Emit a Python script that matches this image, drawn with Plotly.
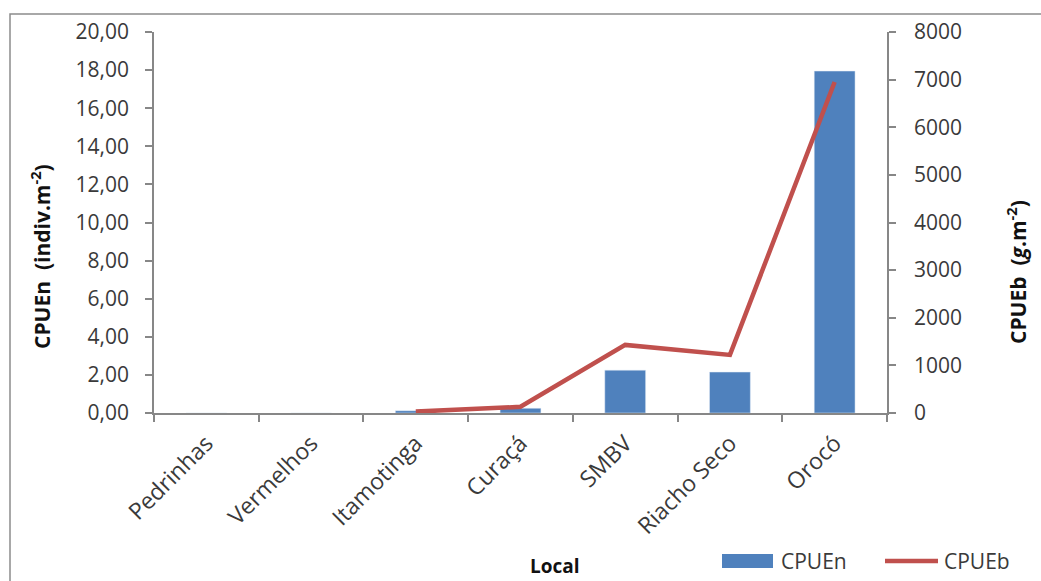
import plotly.graph_objects as go

locais = ["Pedrinhas", "Vermelhos", "Itamotinga", "Curaçá", "SMBV", "Riacho Seco", "Orocó"]
cpuen = [0.0, 0.0, 0.12, 0.25, 2.25, 2.15, 17.95]
cpueb = [None, None, 30, 130, 1430, 1220, 6950]

BAR = "#4F81BD"
LINE = "#C0504D"
AX = "#878787"
TXT = "#3a3a3a"
FONT = "Open Sans"

fig = go.Figure()
fig.add_trace(go.Bar(x=locais, y=cpuen, name="CPUEn", marker_color=BAR, yaxis="y"))
fig.add_trace(go.Scatter(x=locais, y=cpueb, name="CPUEb", mode="lines",
                         line=dict(color=LINE, width=4.5), yaxis="y2", connectgaps=False))

L, R, T, B = 154, 154, 32, 168
W, H = 1041, 581
pw = W - L - R
ph = H - T - B

def px(x):
    return (x - L) / pw

def py(y):
    return (H - B - y) / ph

fig.update_layout(
    width=W, height=H,
    margin=dict(l=L, r=R, t=T, b=B, pad=0),
    plot_bgcolor="white", paper_bgcolor="white",
    separators=",.",
    bargap=0.61,
    showlegend=False,
    font=dict(family=FONT, size=20, color=TXT),
    xaxis=dict(
        type="category", range=[-0.5, 6.5], tickson="boundaries",
        showline=True, linecolor=AX, linewidth=1.5,
        ticks="outside", ticklen=7, tickcolor=AX, tickwidth=1.5,
        tickangle=-45, tickfont=dict(size=23, family=FONT, color=TXT),
        ticklabelstandoff=6,
        showgrid=False, zeroline=False,
    ),
    yaxis=dict(
        range=[0, 20], dtick=2, tickformat=".2f",
        showline=True, linecolor=AX, linewidth=1.5,
        ticks="outside", ticklen=7, tickcolor=AX, tickwidth=1.5,
        tickfont=dict(size=21, family=FONT, color=TXT),
        ticklabelstandoff=12,
        showgrid=False, zeroline=False,
    ),
    yaxis2=dict(
        range=[0, 8000], dtick=1000, tickformat=".0f", overlaying="y", side="right",
        showline=True, linecolor=AX, linewidth=1.5,
        ticks="outside", ticklen=7, tickcolor=AX, tickwidth=1.5,
        tickfont=dict(size=21, family=FONT, color=TXT),
        ticklabelstandoff=14,
        showgrid=False, zeroline=False,
    ),
)

shapes = [
    dict(type="rect", xref="paper", yref="paper",
         x0=px(10), x1=px(1060), y0=py(600), y1=py(14),
         line=dict(color="#8c8c8c", width=1.5), fillcolor="rgba(0,0,0,0)", layer="below"),
    dict(type="rect", xref="paper", yref="paper",
         x0=px(722), x1=px(773), y0=py(568), y1=py(554),
         line=dict(width=0), fillcolor=BAR),
    dict(type="line", xref="paper", yref="paper",
         x0=px(885), x1=px(938), y0=py(561), y1=py(561),
         line=dict(color=LINE, width=4.5)),
]

annotations = [
    dict(text="<b>CPUEn  (indiv.m<sup>-2</sup>)</b>", xref="paper", yref="paper",
         x=px(40), y=py(257), textangle=-90, showarrow=False,
         font=dict(size=21, family=FONT, color="#111"), xanchor="center", yanchor="middle"),
    dict(text="<b>CPUEb  (<i>g</i>.m<sup>-2</sup>)</b>", xref="paper", yref="paper",
         x=px(1016), y=py(272), textangle=-90, showarrow=False,
         font=dict(size=21, family=FONT, color="#111"), xanchor="center", yanchor="middle"),
    dict(text="<b>Local</b>", xref="paper", yref="paper",
         x=px(555), y=py(566), showarrow=False,
         font=dict(size=19, family=FONT, color="#111"), xanchor="center", yanchor="middle"),
    dict(text="CPUEn", xref="paper", yref="paper", x=px(779), y=py(561), showarrow=False,
         font=dict(size=21, family=FONT, color=TXT), xanchor="left", yanchor="middle"),
    dict(text="CPUEb", xref="paper", yref="paper", x=px(942), y=py(561), showarrow=False,
         font=dict(size=21, family=FONT, color=TXT), xanchor="left", yanchor="middle"),
]

fig.update_layout(shapes=shapes, annotations=annotations)
fig.write_html("out.html")
